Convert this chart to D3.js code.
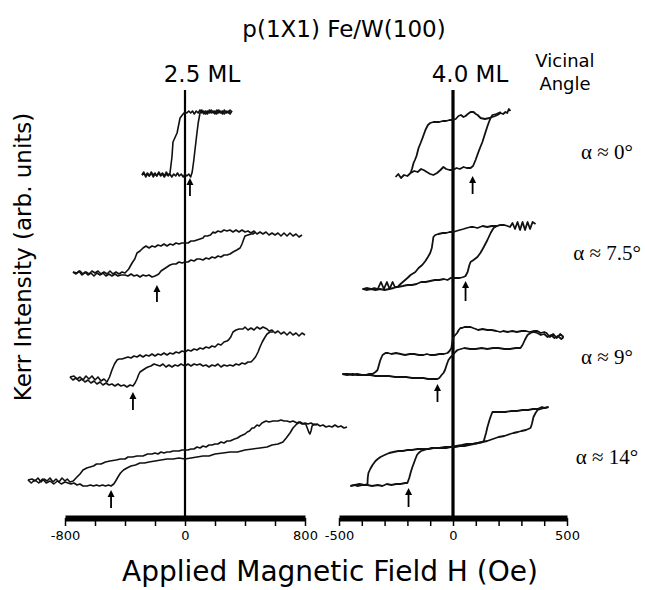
<!DOCTYPE html>
<html>
<head>
<meta charset="utf-8">
<script src="https://cdn.jsdelivr.net/npm/d3@7"></script>
<style>
  body { margin: 0; background: #fff; }
</style>
</head>
<body>
<div id="chart"></div>
<script>
// Kerr hysteresis loops, p(1X1) Fe/W(100). Each loop = two branches of [H (Oe), Kerr (arb. units)]
// "down" = field swept from + to -, "up" = field swept from - to +

// ---- 2.5 ML ----
var ml25_a0_up = [[-287,34.5],[-275,34.8],[-262,34.3],[-250,34.6],[-238,34.4],[-225,34.7],[-212,34.3],[-200,34.6],[-188,34.4],[-175,34.7],[-162,34.4],[-150,34.6],[-138,34.3],[-125,34.6],[-112,34.4],[-100,34.6],[-88,34.3],[-75,34.6],[-62,34.4],[-50,34.7],[-38,34.4],[-25,34.6],[-12,34.3],[0,34.6],[12,34.4],[25,34.6],[38,34.3],[48,34.8],[58,35.9],[68,37.2],[78,38.5],[88,39.7],[100,40.7],[112,41.0],[125,40.6],[138,40.9],[150,40.6],[162,41.0],[175,40.7],[188,40.9],[200,40.6],[212,41.0],[225,40.7],[238,40.9],[250,40.6],[262,41.0],[275,40.7],[288,40.9],[300,40.6],[313,40.9]];
var ml25_a0_down = [[313,40.8],[300,41.0],[288,40.7],[275,40.9],[262,40.6],[250,40.9],[238,40.7],[225,41.0],[212,40.6],[200,40.9],[188,40.7],[175,41.0],[162,40.7],[150,40.9],[138,40.6],[125,40.9],[112,40.7],[100,41.0],[88,40.7],[75,40.9],[62,40.6],[50,40.9],[38,40.7],[25,40.9],[12,40.7],[0,40.8],[-13,40.6],[-33,40.2],[-53,38.7],[-80,37.8],[-87,36.3],[-100,34.7],[-112,34.5],[-125,34.8],[-138,34.4],[-150,34.7],[-162,34.5],[-175,34.8],[-188,34.4],[-200,34.7],[-212,34.5],[-225,34.8],[-238,34.4],[-250,34.7],[-262,34.5],[-275,34.6],[-287,34.5]];

var ml25_a75_up = [[-747,24.8],[-727,24.6],[-707,24.9],[-687,24.5],[-667,24.8],[-647,24.5],[-627,24.7],[-607,24.4],[-587,24.7],[-567,24.5],[-547,24.7],[-527,24.4],[-507,24.6],[-487,24.4],[-467,24.6],[-447,24.4],[-427,24.5],[-400,24.5],[-380,24.4],[-360,24.6],[-340,24.4],[-320,24.5],[-300,24.3],[-280,24.5],[-260,24.4],[-240,24.5],[-220,24.3],[-200,24.4],[-187,24.5],[-175,24.6],[-160,24.9],[-140,25.1],[-120,25.3],[-100,25.5],[-80,25.6],[-60,25.6],[-40,25.8],[-20,25.7],[0,25.8],[20,25.8],[40,26.0],[60,25.9],[80,26.1],[100,26.1],[120,26.0],[140,26.2],[160,26.1],[180,26.3],[200,26.2],[220,26.4],[240,26.3],[260,26.5],[280,26.5],[300,26.6],[320,26.8],[345,27.0],[367,27.2],[380,27.6],[392,28.1],[400,28.4],[420,28.5],[440,28.6],[453,28.6],[470,28.8]];
var ml25_a75_down = [[780,28.5],[760,28.3],[740,28.6],[720,28.4],[700,28.7],[680,28.4],[660,28.7],[640,28.4],[620,28.7],[600,28.5],[580,28.7],[560,28.5],[540,28.8],[520,28.6],[500,28.8],[480,28.6],[460,28.9],[440,28.7],[420,28.9],[400,28.8],[380,29.0],[360,28.8],[340,29.0],[320,28.8],[300,29.0],[280,28.9],[260,29.0],[240,28.8],[220,28.9],[200,28.7],[187,28.8],[170,28.5],[150,28.4],[130,28.4],[120,28.2],[100,28.1],[80,28.0],[60,27.9],[40,27.9],[20,27.7],[0,27.7],[-20,27.7],[-40,27.6],[-60,27.7],[-80,27.5],[-100,27.6],[-120,27.4],[-140,27.6],[-160,27.4],[-180,27.5],[-200,27.3],[-220,27.4],[-240,27.2],[-260,27.4],[-280,27.2],[-300,26.9],[-320,26.7],[-335,26.1],[-353,25.7],[-375,25.1],[-400,24.7],[-420,24.8],[-440,24.6],[-460,24.8],[-480,24.6],[-500,24.9],[-520,24.6],[-540,24.8],[-560,24.6],[-580,24.9],[-600,24.7],[-620,24.9],[-640,24.6],[-660,24.8],[-680,24.6],[-700,24.9],[-720,24.7],[-747,24.8]];

var ml25_a9_up = [[-767,14.3],[-747,14.0],[-727,14.2],[-707,13.9],[-687,14.1],[-667,13.8],[-647,14.0],[-627,13.7],[-607,13.9],[-587,13.6],[-567,13.8],[-547,13.5],[-527,13.7],[-507,13.5],[-487,13.6],[-467,13.4],[-447,13.6],[-427,13.4],[-407,13.5],[-387,13.3],[-367,13.5],[-347,13.4],[-333,13.7],[-320,14.1],[-310,14.5],[-300,14.8],[-280,15.0],[-260,15.2],[-247,15.3],[-227,15.4],[-207,15.6],[-187,15.5],[-167,15.4],[-147,15.6],[-127,15.3],[-107,15.5],[-87,15.3],[-67,15.5],[-47,15.4],[-27,15.6],[0,15.4],[20,15.6],[40,15.4],[60,15.6],[80,15.5],[100,15.6],[120,15.4],[140,15.5],[160,15.3],[180,15.5],[200,15.4],[220,15.6],[240,15.3],[260,15.5],[280,15.4],[300,15.5],[320,15.4],[340,15.6],[360,15.5],[380,15.7],[400,15.6],[420,15.8],[440,15.8],[453,16.0],[470,16.3],[487,16.8],[500,17.3],[515,17.8],[530,18.2],[547,18.6],[567,18.8],[587,18.8]];
var ml25_a9_down = [[800,18.5],[780,18.7],[760,18.4],[740,18.7],[720,18.5],[700,18.8],[680,18.5],[660,18.8],[640,18.6],[620,18.9],[600,18.7],[580,19.0],[560,18.9],[547,19.1],[520,19.3],[500,19.1],[480,19.3],[460,19.0],[440,19.2],[420,19.0],[400,19.3],[387,19.1],[360,19.1],[340,19.0],[320,18.8],[305,18.3],[290,18.0],[280,17.9],[260,17.8],[240,17.5],[220,17.6],[200,17.3],[180,17.4],[160,17.2],[140,17.3],[120,17.1],[100,17.2],[80,17.0],[60,17.1],[40,16.9],[20,17.0],[0,16.8],[-20,16.9],[-40,16.7],[-60,16.8],[-80,16.6],[-100,16.7],[-120,16.5],[-140,16.7],[-160,16.5],[-180,16.6],[-200,16.4],[-220,16.6],[-240,16.4],[-260,16.5],[-280,16.3],[-300,16.5],[-320,16.3],[-340,16.4],[-360,16.2],[-380,16.3],[-400,16.2],[-420,16.1],[-440,16.1],[-453,16.0],[-470,15.6],[-487,15.0],[-503,14.3],[-520,13.8],[-540,14.1],[-560,13.9],[-580,14.3],[-600,14.0],[-620,14.4],[-640,14.1],[-660,14.4],[-680,14.0],[-700,14.3],[-720,14.1],[-740,14.4],[-767,14.3]];

var ml25_a14_up = [[-1047,4.0],[-1025,3.7],[-1000,4.0],[-975,3.7],[-950,4.1],[-925,3.7],[-900,3.9],[-875,3.6],[-850,3.9],[-825,3.6],[-800,3.8],[-780,3.7],[-760,3.6],[-740,3.7],[-720,3.5],[-700,3.6],[-680,3.4],[-653,3.4],[-630,3.5],[-610,3.4],[-590,3.5],[-570,3.4],[-550,3.5],[-530,3.4],[-510,3.5],[-493,3.4],[-475,3.6],[-462,3.9],[-447,4.3],[-430,4.7],[-410,5.0],[-387,5.2],[-360,5.4],[-330,5.5],[-300,5.7],[-270,5.7],[-240,5.8],[-200,5.9],[-160,6.0],[-120,6.1],[-80,6.1],[-40,6.2],[0,6.1],[40,6.2],[80,6.3],[120,6.4],[160,6.4],[200,6.6],[253,6.7],[300,6.8],[350,6.8],[400,7.0],[450,7.1],[500,7.2],[547,7.3],[580,7.5],[620,7.6],[653,7.8],[675,8.2],[700,8.7],[720,9.2],[745,9.6],[767,9.8],[790,9.6],[805,9.6],[815,9.2],[825,8.8],[833,8.6],[840,8.9],[847,9.4],[860,9.6],[880,9.5]];
var ml25_a14_down = [[1080,9.3],[1060,9.2],[1040,9.4],[1020,9.3],[1000,9.5],[980,9.3],[960,9.4],[940,9.3],[920,9.5],[900,9.4],[880,9.6],[860,9.5],[840,9.7],[820,9.6],[800,9.7],[780,9.6],[760,9.8],[747,9.7],[720,9.9],[700,9.8],[680,9.9],[660,9.9],[640,10.0],[620,9.9],[600,9.9],[587,9.9],[560,9.8],[540,9.9],[513,9.7],[495,9.4],[480,9.5],[460,9.2],[447,9.2],[430,8.9],[415,8.8],[400,8.6],[385,8.5],[370,8.4],[350,8.2],[330,8.1],[300,7.9],[280,7.9],[260,7.7],[240,7.8],[220,7.6],[200,7.6],[180,7.5],[160,7.5],[140,7.3],[120,7.4],[100,7.2],[80,7.3],[60,7.1],[40,7.1],[20,7.0],[0,7.0],[-20,7.0],[-40,6.9],[-60,6.9],[-80,6.9],[-100,6.8],[-120,6.8],[-140,6.7],[-160,6.8],[-180,6.6],[-200,6.7],[-220,6.6],[-250,6.6],[-280,6.4],[-320,6.4],[-350,6.3],[-380,6.3],[-400,6.1],[-430,6.1],[-460,6.0],[-500,5.9],[-530,5.8],[-560,5.6],[-590,5.6],[-610,5.4],[-633,5.3],[-655,5.2],[-680,5.0],[-700,4.6],[-720,4.3],[-745,3.9],[-767,3.8],[-785,4.1],[-800,3.9],[-820,4.2],[-840,3.8],[-860,4.1],[-880,3.8],[-900,4.2],[-920,3.9],[-940,4.1],[-960,3.8],[-980,4.2],[-1000,3.9],[-1020,4.1],[-1047,4.0]];

// ---- 4.0 ML ----
var ml40_a0_up = [[-252,34.3],[-240,34.6],[-228,34.2],[-215,34.5],[-200,34.4],[-186,34.7],[-170,34.9],[-155,34.8],[-140,35.1],[-129,35.0],[-115,34.8],[-100,34.6],[-86,34.5],[-70,34.7],[-55,35.0],[-42,35.3],[-30,35.1],[-15,35.0],[0,35.0],[15,35.2],[30,35.1],[46,35.3],[60,35.2],[77,35.2],[88,35.4],[99,36.0],[110,36.7],[120,37.3],[129,37.8],[140,38.6],[150,39.3],[156,39.7],[165,40.2],[173,40.5],[190,40.6],[210,40.8]];
var ml40_a0_down = [[252,40.9],[245,41.1],[238,40.7],[230,40.8],[220,40.6],[208,40.7],[195,40.5],[185,40.4],[173,40.3],[160,40.2],[140,40.1],[121,40.2],[108,40.5],[100,40.6],[90,40.8],[77,40.8],[65,40.6],[55,40.4],[46,40.3],[35,40.5],[24,40.4],[12,40.1],[0,40.0],[-15,40.0],[-30,39.9],[-45,39.9],[-60,39.8],[-75,39.8],[-86,39.8],[-100,39.7],[-110,39.5],[-121,39.0],[-132,38.3],[-142,37.7],[-151,37.2],[-160,36.4],[-167,36.0],[-173,35.7],[-180,35.1],[-186,34.7]];

var ml40_a75_up = [[-397,23.1],[-380,23.0],[-360,23.1],[-340,23.0],[-320,23.1],[-300,23.0],[-280,23.1],[-260,23.2],[-243,23.3],[-220,23.4],[-200,23.5],[-180,23.5],[-160,23.6],[-140,23.8],[-120,23.8],[-100,23.9],[-80,24.0],[-60,24.0],[-40,24.1],[-24,24.0],[-10,24.2],[0,24.2],[15,24.2],[30,24.2],[46,24.3],[55,24.4],[64,24.8],[72,25.5],[77,25.8],[90,26.0],[107,26.3],[120,26.7],[135,27.3],[151,28.0],[165,28.7],[178,29.2],[193,29.4],[208,29.5]];
var ml40_a75_down = [[362,29.6],[349,29.8],[338,29.1],[327,29.8],[316,29.0],[305,29.8],[294,29.0],[283,29.8],[272,29.1],[261,29.7],[250,29.3],[239,29.4],[225,29.5],[208,29.5],[190,29.4],[170,29.4],[150,29.3],[130,29.4],[107,29.2],[90,29.3],[77,29.3],[60,29.2],[46,29.1],[30,29.0],[15,28.9],[2,28.8],[-15,28.8],[-30,28.7],[-45,28.7],[-64,28.6],[-78,28.5],[-86,28.3],[-89,27.8],[-93,27.2],[-100,26.7],[-110,26.3],[-121,25.9],[-135,25.5],[-151,25.2],[-165,24.8],[-186,24.5],[-200,24.2],[-215,23.9],[-230,23.6],[-243,23.3],[-255,23.3],[-265,23.8],[-278,23.1],[-290,23.8],[-303,23.1],[-316,23.8],[-330,23.1],[-345,23.2],[-360,23.1],[-380,23.2],[-397,23.1]];

var ml40_a9_up = [[-485,14.6],[-465,14.5],[-440,14.6],[-420,14.5],[-400,14.5],[-380,14.5],[-362,14.5],[-340,14.4],[-320,14.4],[-300,14.4],[-280,14.4],[-255,14.3],[-230,14.3],[-205,14.3],[-180,14.2],[-155,14.2],[-129,14.2],[-110,14.1],[-90,14.1],[-68,14.1],[-60,14.2],[-50,14.5],[-42,14.7],[-35,15.0],[-28,15.5],[-20,16.0],[-10,16.3],[0,16.5],[10,16.8],[20,17.0],[35,17.1],[50,17.2],[75,17.1],[100,17.1],[125,17.2],[151,17.1],[175,17.2],[200,17.2],[225,17.1],[250,17.1],[275,17.2],[296,17.2],[305,17.5],[315,18.0],[322,18.3],[327,18.5],[340,18.7],[353,18.8],[370,18.7],[385,18.5],[400,18.6],[415,18.3],[430,18.5],[445,18.2],[460,18.4],[475,18.1],[485,18.3]];
var ml40_a9_down = [[485,18.3],[470,18.6],[455,18.2],[440,18.6],[425,18.3],[410,18.7],[400,18.8],[385,18.7],[370,18.9],[353,18.9],[335,18.8],[320,18.9],[300,18.9],[280,18.8],[260,18.9],[240,18.8],[220,18.9],[208,18.8],[190,18.9],[170,19.0],[150,19.0],[130,19.1],[110,19.0],[100,19.1],[88,19.2],[77,19.3],[65,19.3],[50,19.3],[40,19.2],[33,19.2],[25,19.0],[18,18.7],[10,18.5],[2,18.3],[-3,17.8],[-7,17.2],[-15,16.9],[-24,16.7],[-40,16.6],[-60,16.6],[-80,16.5],[-100,16.5],[-115,16.6],[-129,16.5],[-150,16.5],[-170,16.6],[-190,16.6],[-210,16.5],[-230,16.6],[-250,16.7],[-270,16.6],[-285,16.7],[-296,16.7],[-309,16.5],[-315,16.2],[-320,15.9],[-326,15.4],[-331,15.0],[-340,14.8],[-353,14.6],[-370,14.6],[-385,14.5],[-400,14.5],[-420,14.6],[-440,14.5],[-460,14.6],[-485,14.6]];

var ml40_a14_up = [[-450,3.4],[-435,3.5],[-420,3.4],[-400,3.5],[-375,3.5],[-355,3.4],[-330,3.5],[-310,3.4],[-290,3.6],[-270,3.5],[-250,3.6],[-230,3.6],[-210,3.7],[-200,3.7],[-192,4.2],[-185,4.8],[-178,5.3],[-173,5.6],[-165,6.1],[-158,6.5],[-151,6.7],[-140,6.9],[-125,7.0],[-112,7.1],[-95,7.2],[-86,7.2],[-60,7.2],[-35,7.3],[-11,7.3],[15,7.4],[40,7.5],[60,7.6],[85,7.6],[110,7.7],[129,7.8],[150,7.9],[175,8.1],[200,8.3],[225,8.4],[250,8.6],[265,8.7],[285,8.8],[300,8.9],[320,9.0],[340,9.2],[346,9.6],[353,10.3],[362,10.7],[371,11.0],[385,11.1],[400,11.2],[419,11.3]];
var ml40_a14_down = [[419,11.3],[405,11.2],[390,11.3],[371,11.1],[350,11.1],[330,11.0],[305,11.0],[280,10.9],[255,10.9],[230,10.8],[210,10.8],[195,10.8],[185,10.8],[173,10.8],[166,10.4],[160,10.0],[155,9.6],[151,9.3],[145,8.7],[140,8.3],[135,7.9],[129,7.8],[110,7.7],[90,7.6],[70,7.5],[50,7.4],[30,7.4],[10,7.3],[-11,7.3],[-30,7.2],[-50,7.2],[-70,7.2],[-86,7.2],[-105,7.1],[-120,7.1],[-140,7.1],[-156,7.1],[-180,7.0],[-200,7.0],[-220,6.9],[-240,6.9],[-261,6.8],[-280,6.7],[-300,6.5],[-318,6.3],[-330,6.1],[-340,5.9],[-353,5.5],[-363,5.1],[-371,4.7],[-374,4.2],[-375,3.6],[-390,3.5],[-410,3.6],[-430,3.5],[-450,3.4]];

// switching-field arrows: field, arrow tip, arrow tail (arb. units)
var arrows25_H = [33, -187, -347, -493];
var arrows25_tip = [34.2, 23.5, 12.8, 3.0];
var arrows25_tail = [32.4, 21.8, 11.0, 1.2];
var arrows40_H = [86, 55, -68, -195];
var arrows40_tip = [34.4, 23.9, 13.6, 3.2];
var arrows40_tail = [32.6, 21.9, 11.8, 1.3];

var thicknessLabels = ["2.5 ML", "4.0 ML"];
var angleLabels = ["\u03b1 \u2248 0\u00b0", "\u03b1 \u2248 7.5\u00b0", "\u03b1 \u2248 9\u00b0", "\u03b1 \u2248 14\u00b0"];
var ticks25 = [-800, -600, -400, -200, 0, 200, 400, 600, 800];
var tickLabels25 = [-800, 0, 800];
var ticks40 = [-500, -400, -300, -200, -100, 0, 100, 200, 300, 400, 500];
var tickLabels40 = [-500, 0, 500];

var W = 645, H = 590;
var sans = "'DejaVu Sans', 'Liberation Sans', sans-serif";
var serif = "'Liberation Serif', 'DejaVu Serif', serif";

var svg = d3.select("#chart").append("svg")
  .attr("width", W)
  .attr("height", H)
  .style("background", "#fff");

var y = d3.scaleLinear().domain([0, 44]).range([520, 80]);
var axisY = 518;

var panels = [
  {label: thicknessLabels[0], domain: [-800, 800], range: [65, 305], ticks: ticks25, tickLabels: tickLabels25,
   loops: [ml25_a0_up, ml25_a0_down, ml25_a75_up, ml25_a75_down, ml25_a9_up, ml25_a9_down, ml25_a14_up, ml25_a14_down],
   arrH: arrows25_H, arrTip: arrows25_tip, arrTail: arrows25_tail, zeroW: 2.2, lineW: 1.6},
  {label: thicknessLabels[1], domain: [-500, 500], range: [339, 567], ticks: ticks40, tickLabels: tickLabels40,
   loops: [ml40_a0_up, ml40_a0_down, ml40_a75_up, ml40_a75_down, ml40_a9_up, ml40_a9_down, ml40_a14_up, ml40_a14_down],
   arrH: arrows40_H, arrTip: arrows40_tip, arrTail: arrows40_tail, zeroW: 3.2, lineW: 1.8}
];

panels.forEach(function(p) {
  var x = d3.scaleLinear().domain(p.domain).range(p.range);

  // zero-field line
  svg.append("line")
    .attr("x1", x(0)).attr("x2", x(0))
    .attr("y1", y(43)).attr("y2", axisY)
    .attr("stroke", "#000")
    .attr("stroke-width", p.zeroW);

  var line = d3.line()
    .x(function(d) { return x(d[0]); })
    .y(function(d) { return y(d[1]); });

  svg.append("g").selectAll("path")
    .data(p.loops)
    .enter().append("path")
    .attr("d", line)
    .attr("fill", "none")
    .attr("stroke", "#111")
    .attr("stroke-width", p.lineW)
    .attr("stroke-linejoin", "round");

  // arrows
  p.arrH.forEach(function(h, i) {
    var ax = x(h), tip = y(p.arrTip[i]), tail = y(p.arrTail[i]);
    svg.append("line")
      .attr("x1", ax).attr("x2", ax)
      .attr("y1", tip + 5).attr("y2", tail)
      .attr("stroke", "#000").attr("stroke-width", 1.8);
    svg.append("path")
      .attr("d", "M" + ax + "," + tip + "L" + (ax - 3.5) + "," + (tip + 7) + "L" + (ax + 3.5) + "," + (tip + 7) + "Z")
      .attr("fill", "#000");
  });

  // field axis
  var axis = d3.axisBottom(x)
    .tickValues(p.ticks)
    .tickSize(8)
    .tickSizeOuter(0)
    .tickPadding(5)
    .tickFormat(function(d) { return p.tickLabels.indexOf(d) >= 0 ? String(d) : ""; });

  var g = svg.append("g")
    .attr("transform", "translate(0," + axisY + ")")
    .call(axis)
    .attr("font-family", sans)
    .attr("font-size", 13);
  g.select(".domain").attr("stroke-width", 6);
  g.selectAll(".tick line").attr("stroke-width", 1.5);
  g.selectAll(".tick text").attr("fill", "#000");

  // thickness header
  svg.append("text")
    .attr("x", x(0) + 17)
    .attr("y", 82)
    .attr("text-anchor", "middle")
    .attr("font-family", sans)
    .attr("font-size", 23)
    .text(p.label);
});

// title
svg.append("text")
  .attr("x", 344).attr("y", 37)
  .attr("text-anchor", "middle")
  .attr("font-family", sans)
  .attr("font-size", 23)
  .text("p(1X1) Fe/W(100)");

svg.append("text")
  .attr("x", 565).attr("y", 67)
  .attr("text-anchor", "middle")
  .attr("font-family", sans)
  .attr("font-size", 18)
  .text("Vicinal");
svg.append("text")
  .attr("x", 565).attr("y", 90)
  .attr("text-anchor", "middle")
  .attr("font-family", sans)
  .attr("font-size", 18)
  .text("Angle");

// vicinal angle labels
var angleBase = [159, 260, 364, 464];
svg.selectAll(".angle")
  .data(angleLabels)
  .enter().append("text")
  .attr("class", "angle")
  .attr("x", 607)
  .attr("y", function(d, i) { return angleBase[i]; })
  .attr("text-anchor", "middle")
  .attr("font-family", serif)
  .attr("font-size", 21)
  .text(function(d) { return d; });

// axis titles
svg.append("text")
  .attr("transform", "translate(31,257) rotate(-90)")
  .attr("text-anchor", "middle")
  .attr("font-family", sans)
  .attr("font-size", 23)
  .text("Kerr Intensity (arb. units)");

svg.append("text")
  .attr("x", 330).attr("y", 581)
  .attr("text-anchor", "middle")
  .attr("font-family", sans)
  .attr("font-size", 28)
  .text("Applied Magnetic Field H (Oe)");
</script>
</body>
</html>
